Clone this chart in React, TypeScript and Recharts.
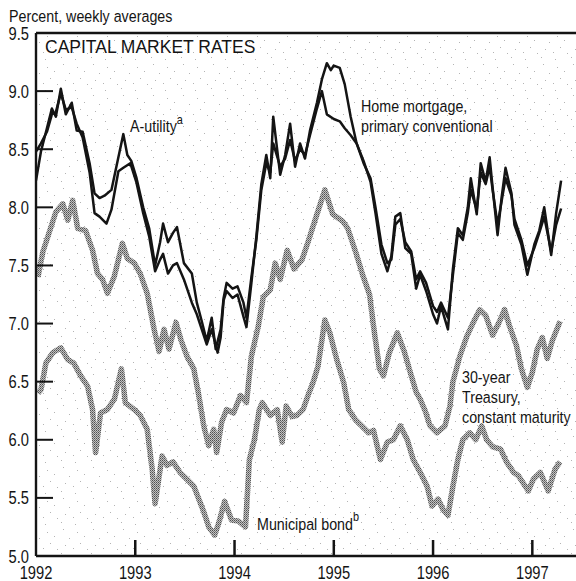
import React from 'react';
import { LineChart, Line, XAxis, YAxis, ReferenceLine } from 'recharts';

type Pt = [number, number];

// tick labels
const yearTicks = [1992, 1993, 1994, 1995, 1996, 1997];
const rateTicks = [5.0, 5.5, 6.0, 6.5, 7.0, 7.5, 8.0, 8.5, 9.0, 9.5];

// weekly averages as [year, percent]
const utility: Pt[] = [
    [1992.00, 8.23], [1992.05, 8.48], [1992.11, 8.68], [1992.16, 8.85], [1992.20, 8.78], [1992.25, 9.02],
    [1992.30, 8.80], [1992.36, 8.90], [1992.41, 8.66], [1992.47, 8.65], [1992.54, 8.38], [1992.59, 8.12],
    [1992.64, 8.08], [1992.69, 8.10], [1992.76, 8.15], [1992.83, 8.43], [1992.88, 8.63], [1992.92, 8.45],
    [1992.96, 8.40], [1993.01, 8.26], [1993.08, 8.00], [1993.14, 7.82], [1993.20, 7.50], [1993.25, 7.70],
    [1993.28, 7.86], [1993.33, 7.70], [1993.38, 7.78], [1993.42, 7.83], [1993.49, 7.52], [1993.57, 7.43],
    [1993.62, 7.18], [1993.67, 7.02], [1993.72, 6.85], [1993.77, 7.05], [1993.81, 6.78], [1993.86, 6.95],
    [1993.89, 7.22], [1993.92, 7.35], [1993.98, 7.30], [1994.03, 7.32], [1994.09, 7.18], [1994.12, 7.05],
    [1994.17, 7.40], [1994.22, 7.72], [1994.27, 8.15], [1994.32, 8.38], [1994.36, 8.30], [1994.39, 8.55],
    [1994.46, 8.35], [1994.51, 8.42], [1994.56, 8.58], [1994.61, 8.40], [1994.66, 8.50], [1994.71, 8.45],
    [1994.76, 8.62], [1994.83, 8.85], [1994.88, 9.00], [1994.93, 8.80], [1995.00, 8.76], [1995.06, 8.74],
    [1995.11, 8.68], [1995.17, 8.62], [1995.23, 8.55], [1995.30, 8.38], [1995.37, 8.25], [1995.42, 8.00],
    [1995.48, 7.68], [1995.54, 7.52], [1995.58, 7.55], [1995.62, 7.85], [1995.67, 7.90], [1995.72, 7.70],
    [1995.78, 7.62], [1995.83, 7.38], [1995.87, 7.45], [1995.93, 7.35], [1996.00, 7.15], [1996.04, 7.10],
    [1996.08, 7.18], [1996.15, 7.05], [1996.20, 7.42], [1996.25, 7.78], [1996.30, 7.72], [1996.35, 7.95],
    [1996.38, 8.15], [1996.44, 7.98], [1996.48, 8.30], [1996.53, 8.20], [1996.57, 8.35], [1996.60, 8.15],
    [1996.65, 7.85], [1996.69, 8.05], [1996.73, 8.25], [1996.79, 8.10], [1996.82, 7.90], [1996.89, 7.72],
    [1996.95, 7.50], [1997.02, 7.65], [1997.07, 7.78], [1997.12, 7.92], [1997.19, 7.62], [1997.24, 7.85],
    [1997.29, 7.99],
];

const mortgage: Pt[] = [
    [1992.00, 8.48], [1992.05, 8.55], [1992.11, 8.65], [1992.16, 8.80], [1992.20, 8.82], [1992.25, 8.98],
    [1992.30, 8.84], [1992.36, 8.86], [1992.41, 8.72], [1992.47, 8.60], [1992.54, 8.30], [1992.59, 7.95],
    [1992.64, 7.92], [1992.71, 7.86], [1992.76, 7.98], [1992.83, 8.31], [1992.88, 8.34], [1992.95, 8.38],
    [1993.01, 8.22], [1993.08, 7.95], [1993.14, 7.75], [1993.20, 7.45], [1993.25, 7.55], [1993.28, 7.60],
    [1993.33, 7.43], [1993.38, 7.50], [1993.42, 7.52], [1993.49, 7.38], [1993.57, 7.18], [1993.62, 7.08],
    [1993.67, 6.95], [1993.72, 6.82], [1993.77, 6.95], [1993.83, 6.75], [1993.86, 6.88], [1993.89, 7.20],
    [1993.92, 7.28], [1993.98, 7.22], [1994.03, 7.25], [1994.09, 7.06], [1994.12, 6.97], [1994.17, 7.35],
    [1994.22, 7.75], [1994.27, 8.20], [1994.32, 8.45], [1994.36, 8.25], [1994.39, 8.78], [1994.46, 8.28],
    [1994.51, 8.45], [1994.56, 8.72], [1994.61, 8.35], [1994.66, 8.55], [1994.71, 8.42], [1994.76, 8.66],
    [1994.83, 8.90], [1994.88, 9.10], [1994.93, 9.24], [1994.97, 9.18], [1995.00, 9.22], [1995.06, 9.20],
    [1995.11, 9.06], [1995.17, 8.78], [1995.23, 8.55], [1995.30, 8.40], [1995.37, 8.22], [1995.42, 7.95],
    [1995.48, 7.60], [1995.54, 7.45], [1995.58, 7.58], [1995.62, 7.92], [1995.67, 7.95], [1995.72, 7.65],
    [1995.78, 7.60], [1995.83, 7.30], [1995.87, 7.42], [1995.93, 7.28], [1996.00, 7.08], [1996.04, 7.00],
    [1996.08, 7.15], [1996.15, 6.95], [1996.20, 7.47], [1996.25, 7.82], [1996.30, 7.76], [1996.35, 8.00],
    [1996.38, 8.25], [1996.44, 7.94], [1996.48, 8.38], [1996.53, 8.22], [1996.57, 8.43], [1996.60, 8.17],
    [1996.65, 7.76], [1996.69, 8.08], [1996.73, 8.34], [1996.79, 8.12], [1996.82, 7.85], [1996.89, 7.68],
    [1996.95, 7.42], [1997.02, 7.68], [1997.07, 7.80], [1997.12, 8.00], [1997.19, 7.59], [1997.24, 7.95],
    [1997.29, 8.23],
];

const treasury: Pt[] = [
    [1992.02, 7.40], [1992.07, 7.62], [1992.12, 7.75], [1992.20, 7.96], [1992.27, 8.03], [1992.32, 7.89],
    [1992.37, 8.06], [1992.42, 7.82], [1992.50, 7.80], [1992.57, 7.63], [1992.62, 7.43], [1992.67, 7.38],
    [1992.72, 7.26], [1992.79, 7.41], [1992.87, 7.69], [1992.92, 7.56], [1992.99, 7.52], [1993.05, 7.43],
    [1993.12, 7.26], [1993.19, 6.95], [1993.24, 6.76], [1993.29, 6.95], [1993.34, 6.78], [1993.41, 7.01],
    [1993.46, 6.86], [1993.52, 6.72], [1993.59, 6.61], [1993.64, 6.38], [1993.69, 6.12], [1993.74, 5.95],
    [1993.79, 6.09], [1993.82, 5.89], [1993.87, 6.15], [1993.92, 6.26], [1993.99, 6.23], [1994.06, 6.38],
    [1994.12, 6.32], [1994.17, 6.72], [1994.24, 6.98], [1994.29, 7.23], [1994.36, 7.29], [1994.41, 7.52],
    [1994.46, 7.38], [1994.53, 7.63], [1994.60, 7.47], [1994.68, 7.55], [1994.74, 7.70], [1994.83, 7.94],
    [1994.91, 8.15], [1994.99, 7.94], [1995.09, 7.88], [1995.14, 7.82], [1995.23, 7.59], [1995.29, 7.42],
    [1995.36, 7.25], [1995.40, 6.98], [1995.46, 6.61], [1995.50, 6.55], [1995.56, 6.75], [1995.64, 6.92],
    [1995.71, 6.76], [1995.77, 6.58], [1995.83, 6.41], [1995.87, 6.35], [1995.92, 6.25], [1995.97, 6.12],
    [1996.04, 6.06], [1996.12, 6.12], [1996.17, 6.29], [1996.20, 6.50], [1996.27, 6.72], [1996.34, 6.89],
    [1996.40, 7.00], [1996.47, 7.12], [1996.53, 7.07], [1996.60, 6.90], [1996.67, 7.02], [1996.72, 7.12],
    [1996.77, 6.98], [1996.84, 6.81], [1996.89, 6.61], [1996.95, 6.45], [1997.00, 6.58], [1997.05, 6.78],
    [1997.10, 6.88], [1997.15, 6.70], [1997.20, 6.85], [1997.28, 7.02],
];

const municipal: Pt[] = [
    [1992.02, 6.40], [1992.05, 6.43], [1992.10, 6.66], [1992.17, 6.75], [1992.25, 6.79], [1992.32, 6.69],
    [1992.38, 6.66], [1992.45, 6.55], [1992.52, 6.46], [1992.57, 6.26], [1992.60, 5.89], [1992.65, 6.23],
    [1992.72, 6.26], [1992.79, 6.35], [1992.86, 6.61], [1992.90, 6.32], [1992.99, 6.26], [1993.05, 6.21],
    [1993.12, 6.09], [1993.17, 5.75], [1993.20, 5.45], [1993.27, 5.86], [1993.32, 5.78], [1993.38, 5.81],
    [1993.45, 5.72], [1993.52, 5.66], [1993.59, 5.60], [1993.64, 5.49], [1993.69, 5.38], [1993.74, 5.25],
    [1993.80, 5.18], [1993.84, 5.28], [1993.90, 5.47], [1993.97, 5.31], [1994.04, 5.30], [1994.11, 5.25],
    [1994.15, 5.83], [1994.20, 6.00], [1994.25, 6.26], [1994.28, 6.32], [1994.36, 6.21], [1994.43, 6.26],
    [1994.48, 5.98], [1994.52, 6.29], [1994.58, 6.20], [1994.63, 6.21], [1994.69, 6.26], [1994.74, 6.38],
    [1994.79, 6.49], [1994.84, 6.63], [1994.91, 7.03], [1994.96, 6.92], [1995.03, 6.69], [1995.10, 6.49],
    [1995.15, 6.26], [1995.22, 6.17], [1995.28, 6.12], [1995.35, 6.06], [1995.40, 6.08], [1995.47, 5.83],
    [1995.54, 5.98], [1995.60, 6.00], [1995.67, 6.12], [1995.74, 6.00], [1995.80, 5.83], [1995.87, 5.72],
    [1995.94, 5.60], [1995.99, 5.43], [1996.05, 5.49], [1996.10, 5.40], [1996.15, 5.35], [1996.20, 5.60],
    [1996.25, 5.83], [1996.30, 6.00], [1996.37, 6.06], [1996.43, 6.00], [1996.49, 6.12], [1996.54, 6.00],
    [1996.60, 5.94], [1996.68, 5.92], [1996.74, 5.81], [1996.81, 5.72], [1996.86, 5.69], [1996.96, 5.56],
    [1997.01, 5.66], [1997.08, 5.72], [1997.16, 5.56], [1997.23, 5.75], [1997.28, 5.81],
];

const SANS = "'Liberation Sans', Arial, Helvetica, sans-serif";
const INK = '#141414';
const NARROW_SCALE = 0.84;

const toRows = (pts: Pt[]) => pts.map(([year, rate]) => ({ year, rate }));

// condensed Helvetica look: regular Liberation Sans squeezed horizontally
const NarrowText = ({ x, y, anchor = 'start', size = 17, children }: any) => (
    <text
        transform={`translate(${x} ${y}) scale(${NARROW_SCALE} 1)`}
        textAnchor={anchor}
        fontFamily={SANS}
        fontSize={size}
        fill={INK}
    >
        {children}
    </text>
);

const RateTick = ({ x, y, payload }: any) => {
    const v = payload.value as number;
    return (
        <g>
            {v > 5 && v < 9.5 && <line x1={x} x2={x + 17} y1={y} y2={y} stroke={INK} strokeWidth={2} />}
            <NarrowText x={x - 7} y={y + 6.5} anchor="end" size={17.5}>{v.toFixed(1)}</NarrowText>
        </g>
    );
};

const YearTick = ({ x, y, payload }: any) => {
    const v = payload.value as number;
    return (
        <g>
            {v > 1992 && <line x1={x} x2={x} y1={y} y2={y - 16} stroke={INK} strokeWidth={2.5} />}
            <NarrowText x={x} y={y + 22.5} anchor="middle" size={17.5}>{v}</NarrowText>
        </g>
    );
};

// sparse print speckle behind the plot
const speckle: Pt[] = [
    [3, 2], [17, 5], [9, 11], [24, 9], [5, 18], [20, 16], [13, 21], [27, 22], [1, 26], [15, 28],
];

const App: React.FC = () => {
    const series = [
        { key: 'municipal', pts: municipal, color: 'url(#halftone)', width: 5.5 },
        { key: 'treasury', pts: treasury, color: 'url(#halftone)', width: 5.5 },
        { key: 'utility', pts: utility, color: INK, width: 2.5 },
        { key: 'mortgage', pts: mortgage, color: INK, width: 2.5 },
    ];

    return (
        <div style={{ position: 'absolute', left: 0, top: 0, width: 576, height: 581, background: '#fff' }}>
            <svg width={576} height={581} style={{ position: 'absolute', left: 0, top: 0 }}>
                <defs>
                    <pattern id="halftone" width={2} height={2} patternUnits="userSpaceOnUse">
                        <rect width={2} height={2} fill="#c2c2c2" />
                        <rect width={1} height={1} fill="#505050" />
                        <rect x={1} y={1} width={1} height={1} fill="#757575" />
                    </pattern>
                    <pattern id="speckle" width={30} height={31} patternUnits="userSpaceOnUse">
                        {speckle.map(([sx, sy], i) => (
                            <rect key={i} x={sx} y={sy} width={1} height={1} fill="#b4b4b4" />
                        ))}
                    </pattern>
                </defs>
                <rect x={37} y={35} width={539} height={520} fill="url(#speckle)" />
            </svg>
            <LineChart width={576} height={581} margin={{ top: 33, right: 0, bottom: 0, left: 0 }}>
                <XAxis
                    dataKey="year"
                    type="number"
                    domain={[1992, 1997.44]}
                    ticks={yearTicks}
                    allowDataOverflow
                    height={25}
                    tickSize={0}
                    tickMargin={0}
                    tickLine={false}
                    tick={<YearTick />}
                    axisLine={{ stroke: INK, strokeWidth: 2.6 }}
                />
                <YAxis
                    type="number"
                    domain={[5, 9.5]}
                    ticks={rateTicks}
                    width={36}
                    tickSize={0}
                    tickMargin={0}
                    tickLine={false}
                    tick={<RateTick />}
                    axisLine={{ stroke: INK, strokeWidth: 2.4 }}
                />
                <ReferenceLine y={9.5} stroke={INK} strokeWidth={2.6} />
                {series.map(s => (
                    <Line
                        key={s.key}
                        data={toRows(s.pts)}
                        dataKey="rate"
                        type="linear"
                        stroke={s.color}
                        strokeWidth={s.width}
                        strokeLinejoin="round"
                        dot={false}
                        isAnimationActive={false}
                    />
                ))}
            </LineChart>
            <svg
                width={576}
                height={581}
                style={{ position: 'absolute', left: 0, top: 0, pointerEvents: 'none' }}
            >
                <NarrowText x={9} y={22} size={17}>Percent, weekly averages</NarrowText>
                <text x={45} y={53} fontFamily={SANS} fontSize={17.5} fill={INK}>CAPITAL MARKET RATES</text>
                <NarrowText x={130} y={132}>
                    A-utility<tspan dy={-8} fontSize={13}>a</tspan>
                </NarrowText>
                <NarrowText x={361} y={112}>Home mortgage,</NarrowText>
                <NarrowText x={361} y={132}>primary conventional</NarrowText>
                <NarrowText x={462} y={383}>30-year</NarrowText>
                <NarrowText x={462} y={403}>Treasury,</NarrowText>
                <NarrowText x={462} y={423}>constant maturity</NarrowText>
                <NarrowText x={257} y={530}>
                    Municipal bond<tspan dy={-9} fontSize={13}>b</tspan>
                </NarrowText>
            </svg>
        </div>
    );
};

export default App;
